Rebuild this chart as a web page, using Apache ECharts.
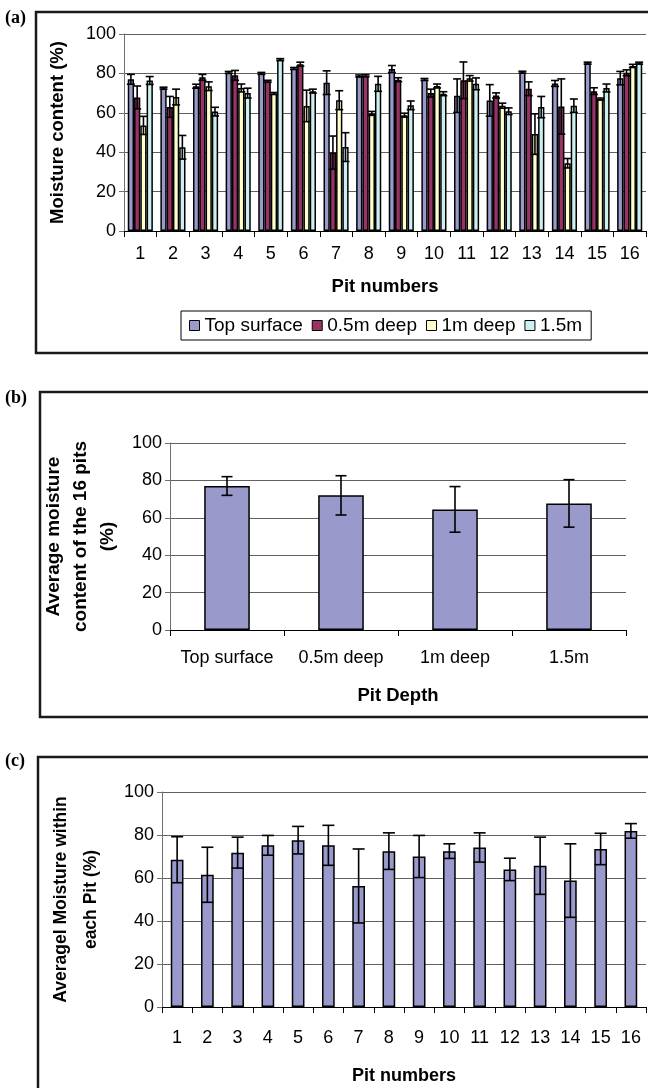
<!DOCTYPE html>
<html>
<head>
<meta charset="utf-8">
<script src="https://cdn.jsdelivr.net/npm/echarts@6/dist/echarts.min.js"></script>
<style>
html,body{margin:0;padding:0;background:#fff;}
#chart{width:648px;height:1088px;}
</style>
</head>
<body>
<div id="chart"></div>
<script>
// ---------- data ----------
const pits = ['1','2','3','4','5','6','7','8','9','10','11','12','13','14','15','16'];
const depthNames = ['Top surface','0.5m deep','1m deep','1.5m'];
const yTicks = [0,20,40,60,80,100];

// panel (a): moisture per pit and depth, with error half-widths
const topSurface    = [77, 72.5, 73.5, 80.5, 80, 82.5, 75.3, 78.7, 82.2, 76.9, 68.7, 66.3, 80.6, 74.9, 85.2, 77.6];
const topSurfaceErr = [2.5, 0.5, 1, 0.5, 0.5, 0.5, 6, 0.5, 1.8, 0.5, 8.5, 8, 0.5, 1.5, 0.5, 3.4];
const deep05        = [67.8, 63, 78, 79, 76, 84.7, 39.8, 78.8, 76.8, 70, 76.5, 68.8, 72.2, 63.2, 71, 80.3];
const deep05Err     = [5.8, 5.3, 1.5, 2.5, 0.5, 1, 8.4, 0.5, 1, 2, 9.3, 1.3, 3.5, 14, 1.7, 1.5];
const deep1         = [53.6, 68, 73.5, 72.6, 69.8, 63.5, 66.4, 59.7, 58.8, 73.6, 77.5, 63.6, 49.2, 34.4, 67, 83.8];
const deep1Err      = [4.6, 4, 2.2, 2, 0.5, 8, 4.8, 1, 1, 1, 1.4, 1.3, 10.3, 2.4, 0.5, 0.8];
const deep15        = [76.4, 42.5, 60.6, 70, 87, 71, 42.6, 74.7, 63.8, 69.7, 74.7, 60.8, 62.9, 63.6, 72.6, 85.2];
const deep15Err     = [2, 6, 2.2, 2.5, 0.5, 1, 7.3, 3.8, 2.2, 1, 3, 1.7, 5.4, 3.4, 2, 0.5];

// panel (b): average of the 16 pits by depth
const depthAvg    = [77, 72, 64.5, 67.7];
const depthAvgErr = [5, 10.5, 12.2, 12.7];

// panel (c): average within each pit
const pitAvg    = [68.5, 61.5, 71.8, 75.2, 77.6, 75.2, 56.3, 72.5, 70, 72.5, 74.2, 64, 65.7, 58.8, 73.5, 81.9];
const pitAvgErr = [10.7, 12.8, 7.2, 4.6, 6.4, 9.3, 17.2, 8.5, 9.8, 3.4, 6.8, 5.2, 13.3, 17.1, 7.3, 3.4];

// ---------- styling ----------
const FONT = "'Liberation Sans', Arial, sans-serif";
const colors = ['#9999CC', '#993366', '#FFFFCC', '#CCF0F0'];
const gridCol = '#606060';

function errSeries(name, xi, yi, vals, errs, idx, n, gapPct, capHalf) {
  return {
    type: 'custom', name: name, xAxisIndex: xi, yAxisIndex: yi, z: 5,
    silent: true,
    data: vals.map((v, i) => [i, v, errs[i]]),
    encode: { x: 0, y: 1 },
    renderItem: function (params, api) {
      const x = api.value(0), v = api.value(1), e = api.value(2);
      const hi = api.coord([x, v + e]);
      const lo = api.coord([x, v - e]);
      const cw = api.size([1, 0])[0];
      const bw = cw * (1 - gapPct) / n;
      const cx = hi[0] + (idx - (n - 1) / 2) * bw;
      const st = { stroke: '#000', lineWidth: 1.6 };
      return { type: 'group', children: [
        { type: 'line', shape: { x1: cx, y1: hi[1], x2: cx, y2: lo[1] }, style: st },
        { type: 'line', shape: { x1: cx - capHalf, y1: hi[1], x2: cx + capHalf, y2: hi[1] }, style: st },
        { type: 'line', shape: { x1: cx - capHalf, y1: lo[1], x2: cx + capHalf, y2: lo[1] }, style: st }
      ]};
    }
  };
}

function yAx(gi, name, gap, fs, lh) {
  return {
    type: 'value', gridIndex: gi, min: 0, max: 100, interval: 20,
    name: name, nameLocation: 'middle', nameRotate: 90, nameGap: gap,
    nameTextStyle: { fontFamily: FONT, fontWeight: 'bold', fontSize: fs, color: '#000', lineHeight: lh, align: 'center' },
    axisLine: { show: true, lineStyle: { color: '#707070', width: 1 } },
    axisTick: { show: true, length: 5, lineStyle: { color: '#707070' } },
    axisLabel: { fontFamily: FONT, fontSize: 18, color: '#000', margin: 8 },
    splitLine: { show: true, lineStyle: { color: gridCol, width: 1 } }
  };
}
function xAx(gi, cats, name, margin, gap, fs) {
  return {
    type: 'category', gridIndex: gi, data: cats, boundaryGap: true,
    name: name, nameLocation: 'middle', nameGap: gap,
    nameTextStyle: { fontFamily: FONT, fontWeight: 'bold', fontSize: fs, color: '#000' },
    axisLine: { show: true, lineStyle: { color: '#000', width: 1 } },
    axisTick: { show: true, length: 6, alignWithLabel: false, interval: 0, lineStyle: { color: '#000' } },
    axisLabel: { fontFamily: FONT, fontSize: 18, color: '#000', margin: margin, interval: 0 },
    splitLine: { show: false }
  };
}

const barStyle = c => ({ color: c, borderColor: '#000', borderWidth: 1.5 });
const series = [];
const aVals = [topSurface, deep05, deep1, deep15];
const aErrs = [topSurfaceErr, deep05Err, deep1Err, deep15Err];
for (let k = 0; k < 4; k++) {
  series.push({
    type: 'bar', name: depthNames[k], xAxisIndex: 0, yAxisIndex: 0,
    data: aVals[k], barGap: '0%', barCategoryGap: '23%',
    itemStyle: barStyle(colors[k]), silent: true
  });
}
for (let k = 0; k < 4; k++) {
  series.push(errSeries('errA' + k, 0, 0, aVals[k], aErrs[k], k, 4, 0.23, 4));
}
series.push({ type: 'bar', name: 'avgDepth', xAxisIndex: 1, yAxisIndex: 1, data: depthAvg,
  barCategoryGap: '60%', itemStyle: barStyle(colors[0]), silent: true });
series.push(errSeries('errB', 1, 1, depthAvg, depthAvgErr, 0, 1, 0.6, 5.5));
series.push({ type: 'bar', name: 'avgPit', xAxisIndex: 2, yAxisIndex: 2, data: pitAvg,
  barCategoryGap: '58%', itemStyle: barStyle(colors[0]), silent: true });
series.push(errSeries('errC', 2, 2, pitAvg, pitAvgErr, 0, 1, 0.58, 6));

const frameStyle = { fill: 'none', stroke: '#1a1a1a', lineWidth: 2.5 };
const panelLbl = { fontFamily: "'Liberation Serif', 'Times New Roman', serif", fontWeight: 'bold', fontSize: 18, fill: '#000' };

const option = {
  animation: false,
  backgroundColor: '#fff',
  textStyle: { fontFamily: FONT },
  grid: [
    { left: 124, top: 34, width: 522, height: 197 },
    { left: 170, top: 443, width: 456, height: 187 },
    { left: 162, top: 792, width: 484, height: 215 }
  ],
  xAxis: [
    xAx(0, pits, 'Pit numbers', 14, 46, 18.5),
    xAx(1, depthNames, 'Pit Depth', 19, 56, 18.5),
    xAx(2, pits, 'Pit numbers', 22, 60, 18)
  ],
  yAxis: [
    yAx(0, 'Moisture content (%)', 55, 18.5, 22),
    yAx(1, 'Average moisture\ncontent of the 16 pits\n(%)', 40, 19, 27),
    yAx(2, 'Averagel Moisture within\neach Pit (%)', 56, 17.5, 30)
  ],
  legend: {
    data: depthNames, left: 181, top: 311,
    orient: 'horizontal', icon: 'rect', itemWidth: 10, itemHeight: 10, itemGap: 9,
    padding: [5, 9, 5, 8],
    borderColor: '#000', borderWidth: 1, backgroundColor: '#fff',
    itemStyle: { borderColor: '#000', borderWidth: 1 },
    textStyle: { fontFamily: FONT, fontSize: 19, color: '#000', padding: [0, 0, 0, 0] },
    selectedMode: false
  },
  graphic: [
    { type: 'rect', shape: { x: 36, y: 12, width: 640, height: 341 }, style: frameStyle, silent: true },
    { type: 'rect', shape: { x: 40, y: 392, width: 640, height: 325 }, style: frameStyle, silent: true },
    { type: 'rect', shape: { x: 38, y: 757, width: 640, height: 360 }, style: frameStyle, silent: true },
    { type: 'text', left: 5, top: 9, style: Object.assign({ text: '(a)' }, panelLbl) },
    { type: 'text', left: 5, top: 389, style: Object.assign({ text: '(b)' }, panelLbl) },
    { type: 'text', left: 5, top: 752, style: Object.assign({ text: '(c)' }, panelLbl) }
  ],
  series: series
};

const chart = echarts.init(document.getElementById('chart'), null, { renderer: 'canvas' });
chart.setOption(option);
</script>
</body>
</html>
